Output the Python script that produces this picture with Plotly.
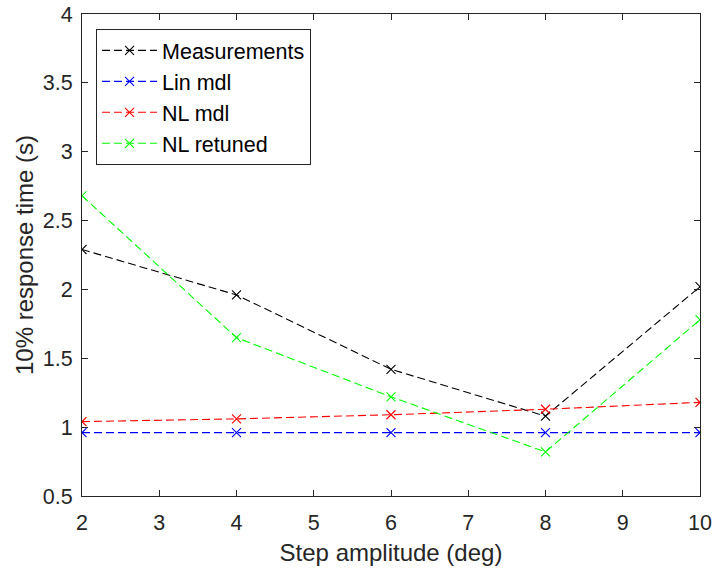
import plotly.graph_objects as go

amplitude = [2, 4, 6, 8, 10]
measurements = [2.29, 1.96, 1.42, 1.08, 2.02]
lin_mdl = [0.96, 0.96, 0.96, 0.96, 0.96]
nl_mdl = [1.04, 1.06, 1.09, 1.13, 1.18]
nl_retuned = [2.68, 1.65, 1.22, 0.82, 1.78]

series = [
    ("Measurements", measurements, "#000000"),
    ("Lin mdl", lin_mdl, "#0000ff"),
    ("NL mdl", nl_mdl, "#ff0000"),
    ("NL retuned", nl_retuned, "#00ff00"),
]

fig = go.Figure()
for name, vals, col in series:
    fig.add_trace(go.Scatter(
        x=amplitude, y=vals, name=name, mode="lines+markers",
        line=dict(color=col, width=1.1, dash="8px,4px"),
        marker=dict(symbol="x-thin", size=9, line=dict(color=col, width=1.1), color=col),
    ))

FONT = "Liberation Sans, Arial, sans-serif"
axis_common = dict(
    showgrid=False, zeroline=False, showline=True, linecolor="#262626", linewidth=1,
    mirror="ticks", ticks="inside", ticklen=6, tickcolor="#262626", automargin=False,
    tickfont=dict(family=FONT, size=21.5, color="#262626"),
)

fig.update_layout(
    width=713, height=572,
    margin=dict(l=82, r=13, t=14, b=76, autoexpand=False),
    paper_bgcolor="white", plot_bgcolor="white",
    font=dict(family=FONT, color="#262626", size=21.5),
    xaxis=dict(range=[2, 10], dtick=1, ticklabelstandoff=7,
               title=dict(text="Step amplitude (deg)", font=dict(family=FONT, size=24, color="#262626"), standoff=10),
               **axis_common),
    yaxis=dict(range=[0.5, 4], dtick=0.5, ticklabelstandoff=4,
               title=dict(text="10% response time (s)", font=dict(family=FONT, size=24, color="#262626"), standoff=2),
               **axis_common),
    legend=dict(x=0.0227, y=0.969, xanchor="left", yanchor="top", bordercolor="#262626", borderwidth=1,
                bgcolor="white", font=dict(family=FONT, size=21.5, color="#000000"),
                tracegroupgap=0, itemwidth=55),
    showlegend=True,
)

# remove the default page margin so the figure fills the window from its top-left corner
fig.write_html("out.html", post_script="document.body.style.margin='0';",
               config={"displayModeBar": False})
